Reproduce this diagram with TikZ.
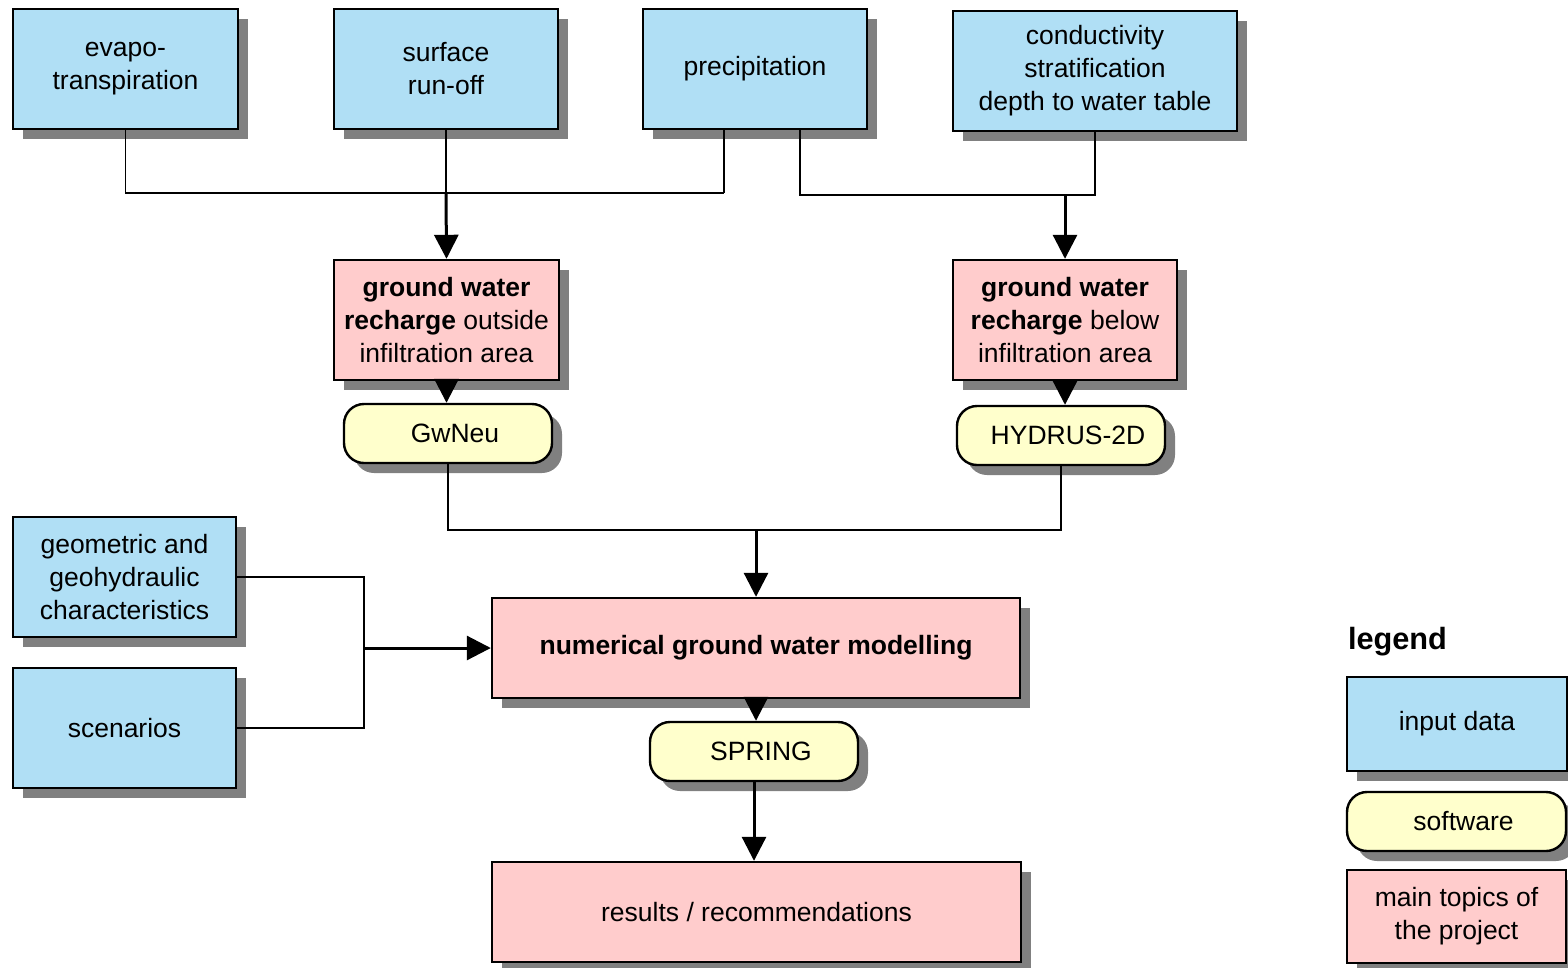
\documentclass[tikz,border=0pt]{standalone}
\usepackage{fontspec}
\setmainfont{Liberation Sans}
\usetikzlibrary{arrows.meta,shadows}
\definecolor{inblue}{HTML}{B0DFF5}
\definecolor{topicpink}{HTML}{FFCCCC}
\definecolor{softyellow}{HTML}{FFFFCC}
\definecolor{shadowgrey}{HTML}{808080}

\begin{document}
\begin{tikzpicture}[
  x=1pt, y=-1pt,
  base/.style={draw=black, line width=2.4pt, inner sep=0pt, align=center, font=\fontsize{26.5}{33}\selectfont,
    drop shadow={shadow xshift=10pt, shadow yshift=-10pt, fill=shadowgrey, opacity=1}},
  indata/.style={base, fill=inblue},
  topic/.style={base, fill=topicpink},
  soft/.style={base, fill=softyellow, rounded corners=20pt, minimum width=208pt, minimum height=59pt,
    execute at begin node=\hspace*{14pt}},
  conn/.style={line width=1.8pt, black},
  arr/.style={-{Triangle[length=24pt, width=24pt]}, line width=3pt, black}
]
\useasboundingbox (0,0) rectangle (1568,967);

\node[indata, minimum width=225pt, minimum height=120pt] (evapo) at (125.5,69) {evapo-\\transpiration};
\node[indata, minimum width=224pt, minimum height=120pt] (runoff) at (446,69) {surface\\run-off};
\node[indata, minimum width=224pt, minimum height=120pt] (precip) at (755,69) {precipitation};
\node[indata, minimum width=284pt, minimum height=120pt] (cond) at (1095,71) {conductivity\\stratification\\depth to water table};

\node[topic, minimum width=225pt, minimum height=120pt] (gwout) at (446.5,320) {\textbf{ground water}\\\textbf{recharge} outside\\infiltration area};
\node[topic, minimum width=224pt, minimum height=120pt] (gwbelow) at (1065,320) {\textbf{ground water}\\\textbf{recharge} below\\infiltration area};
\node[soft] (gwneu) at (448,433.5) {GwNeu};
\node[soft] (hydrus) at (1061,435.5) {HYDRUS-2D};

\node[indata, minimum width=223pt, minimum height=120pt] (geom) at (124.5,577) {geometric and\\geohydraulic\\characteristics};
\node[indata, minimum width=223pt, minimum height=120pt] (scen) at (124.5,728) {scenarios};
\node[topic, minimum width=528pt, minimum height=100pt] (model) at (756,648) {\textbf{numerical ground water modelling}};
\node[soft] (spring) at (754,751.5) {SPRING};
\node[topic, minimum width=529pt, minimum height=100pt] (results) at (756.5,912) {results / recommendations};

\node[font=\fontsize{30.7}{36}\selectfont\bfseries, inner sep=0pt] (legtitle) at (1397.5,642) {legend};
\node[indata, minimum width=220pt, minimum height=94pt] (leginput) at (1457,724) {input data};
\node[soft, minimum width=219pt] (legsoft) at (1456.5,821.5) {software};
\node[topic, minimum width=219pt, minimum height=93pt] (legmain) at (1456.5,916.5) {main topics of\\the project};

\coordinate (jl) at (724,193);
\coordinate (jr) at (800,195);
\coordinate (jm) at (757,530);
\coordinate (jg) at (364,648);

\draw[conn] (evapo.south) |- (jl);
\draw[conn] (precip.south -| jl) -- (jl);
\draw[conn] (runoff.south) -- (runoff.south |- jl);
\draw[arr] (runoff.south |- jl) -- (gwout.north);
\draw[conn] (precip.south -| jr) |- (cond.south |- jr) -- (cond.south);
\draw[arr] (gwbelow.north |- jr) -- (gwbelow.north);
\draw[arr] (gwout.south) -- (gwout.south |- gwneu.north);
\draw[arr] (gwbelow.south) -- (gwbelow.south |- hydrus.north);
\draw[conn] (gwneu.south) |- (hydrus.south |- jm) -- (hydrus.south);
\draw[arr] (model.north |- jm) -- (model.north);
\draw[conn] (geom.east) -| (scen.east -| jg) -- (scen.east);
\draw[arr] (jg) -- (model.west);
\draw[arr] (model.south) -- (model.south |- spring.north);
\draw[arr] (spring.south) -- (spring.south |- results.north);
\end{tikzpicture}
\end{document}
